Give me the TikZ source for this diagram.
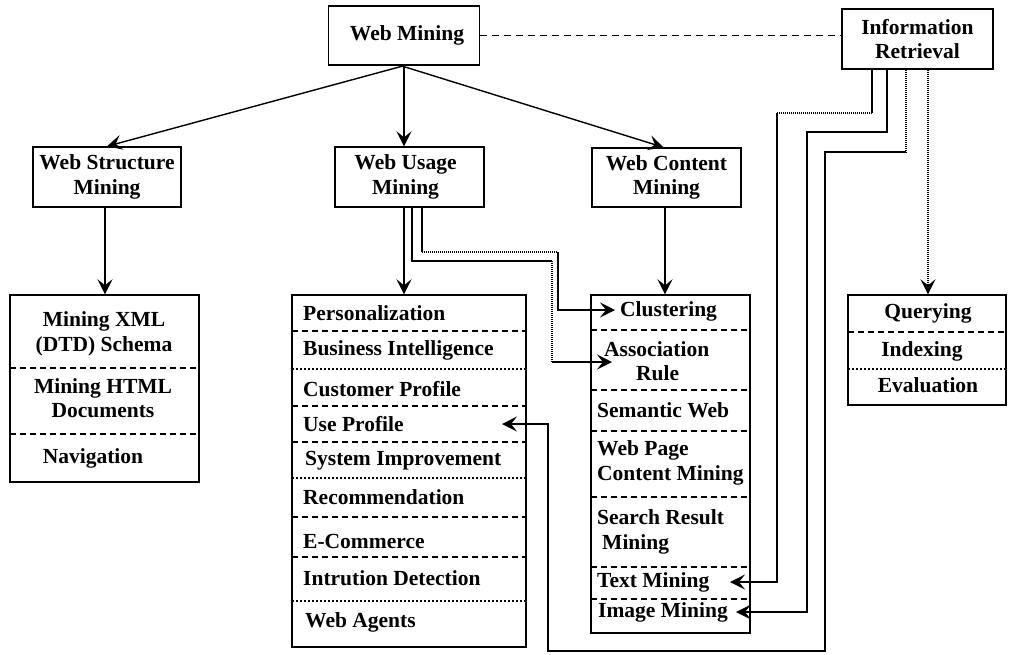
\documentclass[tikz,border=0pt]{standalone}
\usepackage{fontspec}
\setmainfont{Liberation Serif}
\usetikzlibrary{arrows.meta}
\begin{document}
\begin{tikzpicture}[x=1pt,y=-1pt,
  every node/.style={font=\fontsize{21.5}{24.5}\selectfont\bfseries},
  box/.style={draw,line width=1.4pt,inner sep=0pt,align=center},
  listbox/.style={draw,line width=1.4pt,inner sep=0pt},
  item/.style={inner sep=0pt,anchor=west,align=left},
  citem/.style={inner sep=0pt,align=center},
  conn/.style={line width=1.4pt},
  arr/.style={line width=1.4pt,-{Stealth[length=15pt,width=15pt,inset=6pt]}},
  sepd/.style={line width=1.2pt,dash pattern=on 6pt off 4pt},
  sepo/.style={line width=1.2pt,dash pattern=on 1.5pt off 2.5pt},
  dot/.style={line width=1.4pt,dash pattern=on 1pt off 1pt}]
\useasboundingbox (0,0) rectangle (1011,654);

% top boxes
\node[box,minimum width=151,minimum height=59] (wm) at (404,35.5) {\hspace*{6pt}Web Mining};
\node[box,minimum width=151,minimum height=60] (ir) at (917.5,39) {Information\\Retrieval};
\node[box,minimum width=148,minimum height=60] (wsm) at (107,177) {Web Structure\\Mining};
\node[box,minimum width=149,minimum height=60] (wum) at (409.5,177) {Web Usage\hspace*{8pt}\\Mining\hspace*{8pt}};
\node[box,minimum width=149,minimum height=59] (wcm) at (666.5,177.5) {Web Content\\Mining};

% structure list
\node[listbox,minimum width=189,minimum height=187] (sl) at (104.5,388.5) {};
\draw[sepd] (10,368) -- (199,368);
\draw[sepd] (10,434) -- (199,434);
\node[citem] (s1) at (104,334) {Mining XML\\(DTD) Schema};
\node[citem] (s2) at (103,398) {Mining HTML\\Documents};
\node[citem] (s3) at (93,458) {Navigation};

% usage list
\node[listbox,minimum width=234,minimum height=352] (ul) at (409,471) {};
\draw[sepd] (292,331) -- (526,331);
\draw[sepo] (292,369) -- (526,369);
\draw[sepd] (292,406) -- (526,406);
\draw[sepd] (292,442) -- (526,442);
\draw[sepo] (292,478) -- (526,478);
\draw[sepd] (292,517) -- (526,517);
\draw[sepd] (292,557) -- (526,557);
\draw[sepo] (292,601) -- (526,601);
\node[item] (u1) at (303,313) {Personalization};
\node[item] (u2) at (303,350) {Business Intelligence};
\node[item] (u3) at (303,389) {Customer Profile};
\node[item] (u4) at (303,424) {Use Profile};
\node[item] (u5) at (305,461) {System Improvement};
\node[item] (u6) at (303,497) {Recommendation};
\node[item] (u7) at (303,541) {E-Commerce};
\node[item] (u8) at (303,578) {Intrution Detection};
\node[item] (u9) at (305,622) {Web Agents};

% content list
\node[listbox,minimum width=159,minimum height=338] (cl) at (670.5,464) {};
\draw[sepd] (591,330) -- (750,330);
\draw[sepd] (591,390) -- (750,390);
\draw[sepd] (591,431) -- (750,431);
\draw[sepd] (591,497) -- (750,497);
\draw[sepd] (591,567) -- (750,567);
\draw[sepd] (591,599) -- (750,599);
\node[item] (c1) at (620,311) {Clustering};
\node[item] (c2a) at (604,349) {Association};
\node[item] (c2b) at (636,373) {Rule};
\node[item] (c3) at (597,410) {Semantic Web};
\node[item] (c4) at (597,463) {Web Page\\Content Mining};
\node[item] (c5) at (597,532) {Search Result\\\hspace*{5pt}Mining};
\node[item] (c6) at (597,582) {Text Mining};
\node[item] (c7) at (598,612) {Image Mining};

% IR list
\node[listbox,minimum width=158,minimum height=110] (ql) at (927,350) {};
\draw[sepd] (848,332) -- (1006,332);
\draw[sepo] (848,369) -- (1006,369);
\node[citem] (q1) at (928,313) {Querying};
\node[citem] (q2) at (922,351) {Indexing};
\node[citem] (q3) at (928,385) {Evaluation};

% connectors from Web Mining
\draw[line width=1.4pt,dash pattern=on 7pt off 5pt] (wm.east) -- (wm.east -| ir.west);
\draw[arr] (wm.south) -- (wsm.north);
\draw[arr] (wm.south) -- (wm.south |- wum.north);
\draw[arr] ([xshift=-3pt]wm.south) -- ([xshift=-3pt]wcm.north);

% down arrows
\draw[arr] ([xshift=-2pt]wsm.south) -- ([xshift=-2pt]wsm.south |- sl.north);
\draw[arr] (wm.south |- wum.south) -- (wm.south |- ul.north);
\draw[arr] ([xshift=-1.5pt]wcm.south) -- ([xshift=-1.5pt]wcm.south |- cl.north);
\draw[arr,dot] ([xshift=10.5pt]ir.south) -- ([xshift=10.5pt]ir.south |- ql.north);

% usage -> clustering / association
\coordinate (cluIn) at (615,310);
\coordinate (assIn) at (612,362);
\draw[conn] ([xshift=12.5pt]wum.south) -- ([xshift=12.5pt]wum.south |- 0,252);
\draw[dot] ([xshift=12.5pt]wum.south |- 0,252) -- (558,252);
\draw[arr] (558,252) |- (cluIn);
\draw[conn] ([xshift=2.5pt]wum.south) |- (552,261);
\draw[dot] (552,261) -- (552,362);
\draw[arr] (552,362) -- (assIn);

% IR -> text mining / image mining / use profile
\coordinate (txtIn) at (730,582);
\coordinate (imgIn) at (736,612);
\coordinate (useIn) at (502,424);
\draw[conn] ([xshift=-45.5pt]ir.south) -- ([xshift=-45.5pt]ir.south |- 0,113);
\draw[dot] ([xshift=-45.5pt]ir.south |- 0,113) -- (777,113);
\draw[arr] (777,113) |- (txtIn);
\draw[arr] ([xshift=-30.5pt]ir.south) |- (807,132) |- (imgIn);
\draw[dot] ([xshift=-11.5pt]ir.south) -- ([xshift=-11.5pt]ir.south |- 0,152);
\draw[arr] ([xshift=-11.5pt]ir.south |- 0,152) -| (825,651) -| (548,424) -- (useIn);
\end{tikzpicture}
\end{document}
